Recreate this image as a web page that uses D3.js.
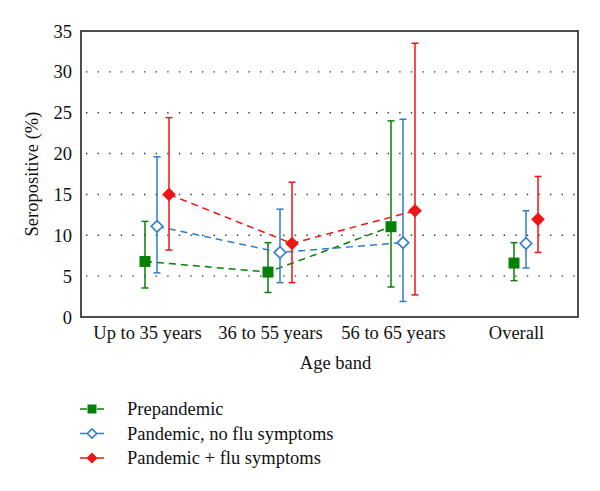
<!DOCTYPE html>
<html><head><meta charset="utf-8">
<script src="https://cdn.jsdelivr.net/npm/d3@7"></script>
<style>body{margin:0;background:#fff}svg{display:block}svg text{font-family:"Liberation Serif","Times New Roman","DejaVu Serif",serif !important;fill:#111}</style>
</head><body>
<svg id="c" width="600" height="491"></svg>
<script>
const categories = ["Up to 35 years","36 to 55 years","56 to 65 years","Overall"];
const seriesNames = ["Prepandemic","Pandemic, no flu symptoms","Pandemic + flu symptoms"];
const prepandemic      = [6.8, 5.5, 11.05, 6.6];
const prepandemicLow   = [3.55, 3.0, 3.67, 4.45];
const prepandemicHigh  = [11.7, 9.1, 24.0, 9.1];
const noFlu            = [11.1, 7.9, 9.1, 9.0];
const noFluLow         = [5.4, 4.2, 1.9, 6.0];
const noFluHigh        = [19.6, 13.2, 24.2, 13.0];
const withFlu          = [15.0, 9.0, 13.0, 11.95];
const withFluLow       = [8.2, 4.2, 2.7, 7.9];
const withFluHigh      = [24.4, 16.5, 33.5, 17.2];
const yTicks = [0,5,10,15,20,25,30,35];

const colors = ["#078007","#2e7ccc","#ee1515"];
const offsets = [-2, 10, 22];
const series = [
  {name:seriesNames[0], v:prepandemic, lo:prepandemicLow, hi:prepandemicHigh, shape:"square"},
  {name:seriesNames[1], v:noFlu, lo:noFluLow, hi:noFluHigh, shape:"openDiamond"},
  {name:seriesNames[2], v:withFlu, lo:withFluLow, hi:withFluHigh, shape:"diamond"}
];
const FONT = '"Liberation Serif","Times New Roman","DejaVu Serif",serif';
const FS = 18.5;

const svg = d3.select("#c");
const L=81, R=578, T=31, B=317;
const x = d3.scalePoint().domain(categories).range([147,516]);
const y = d3.scaleLinear().domain([0,35]).range([B,T]);

// grid dotted
svg.append("g").selectAll("line").data(yTicks.filter(t=>t>0&&t<35)).join("line")
  .attr("x1",L+5).attr("x2",R).attr("y1",d=>y(d)).attr("y2",d=>y(d))
  .attr("stroke","#333").attr("stroke-width",1.4).attr("stroke-dasharray","1.4,10.2");

// y axis labels
const yAxis = d3.axisLeft(y).tickValues(yTicks).tickSize(0).tickPadding(9);
const gy = svg.append("g").attr("transform",`translate(${L},0)`).call(yAxis)
  .attr("font-family",FONT).attr("font-size",FS);
gy.select(".domain").remove();
gy.selectAll("text").attr("fill","#111").attr("dy","0.33em");

// x axis labels
const xAxis = d3.axisBottom(x).tickSize(0).tickPadding(9);
const gx = svg.append("g").attr("transform",`translate(0,${B})`).call(xAxis)
  .attr("font-family",FONT).attr("font-size",FS);
gx.select(".domain").remove();
gx.selectAll("text").attr("fill","#111");

svg.append("text").attr("x",(L+R)/2+6).attr("y",369).attr("text-anchor","middle").attr("font-size",FS).text("Age band");
svg.append("text").attr("transform",`translate(38,${(T+B)/2}) rotate(-90)`).attr("text-anchor","middle").attr("font-size",FS).text("Seropositive (%)");

// frame
svg.append("rect").attr("x",L).attr("y",T).attr("width",R-L).attr("height",B-T)
  .attr("fill","none").attr("stroke","#222").attr("stroke-width",1.6);

function marker(g, shape, color, size){
  if(shape==="square"){
    g.append("rect").attr("x",-size/2).attr("y",-size/2).attr("width",size).attr("height",size).attr("fill",color);
  } else if(shape==="diamond"){
    const s=size*0.62;
    g.append("path").attr("d",`M0,${-s}L${s},0L0,${s}L${-s},0Z`).attr("fill",color);
  } else {
    const s=size*0.52;
    g.append("path").attr("d",`M0,${-s}L${s},0L0,${s}L${-s},0Z`).attr("fill","#fff").attr("stroke",color).attr("stroke-width",1.6);
  }
}

series.forEach((s,i)=>{
  const col=colors[i], off=offsets[i];
  const g = svg.append("g");
  const line = d3.line().x((d,j)=>x(categories[j])+off).y(d=>y(d));
  g.append("path").datum(s.v.slice(0,3)).attr("d",line).attr("fill","none")
    .attr("stroke",col).attr("stroke-width",1.5).attr("stroke-dasharray","7,5");
  categories.forEach((c,j)=>{
    const cx=x(c)+off;
    g.append("line").attr("x1",cx).attr("x2",cx).attr("y1",y(s.lo[j])).attr("y2",y(s.hi[j])).attr("stroke",col).attr("stroke-width",1.5);
    [s.lo[j],s.hi[j]].forEach(v=>{
      g.append("line").attr("x1",cx-3.5).attr("x2",cx+3.5).attr("y1",y(v)).attr("y2",y(v)).attr("stroke",col).attr("stroke-width",1.5);
    });
    const mg=g.append("g").attr("transform",`translate(${cx},${y(s.v[j])})`);
    marker(mg,s.shape,col,11);
  });
});

// legend
const leg = svg.append("g");
series.forEach((s,i)=>{
  const ly = 409 + i*24.5;
  const col=colors[i];
  leg.append("line").attr("x1",80).attr("x2",87).attr("y1",ly).attr("y2",ly).attr("stroke",col).attr("stroke-width",1.5);
  leg.append("line").attr("x1",97).attr("x2",104).attr("y1",ly).attr("y2",ly).attr("stroke",col).attr("stroke-width",1.5);
  const mg=leg.append("g").attr("transform",`translate(92,${ly})`);
  marker(mg,s.shape,col,9);
  leg.append("text").attr("x",127).attr("y",ly).attr("dy","0.33em").attr("font-size",FS).text(s.name);
});
</script>
</body></html>
